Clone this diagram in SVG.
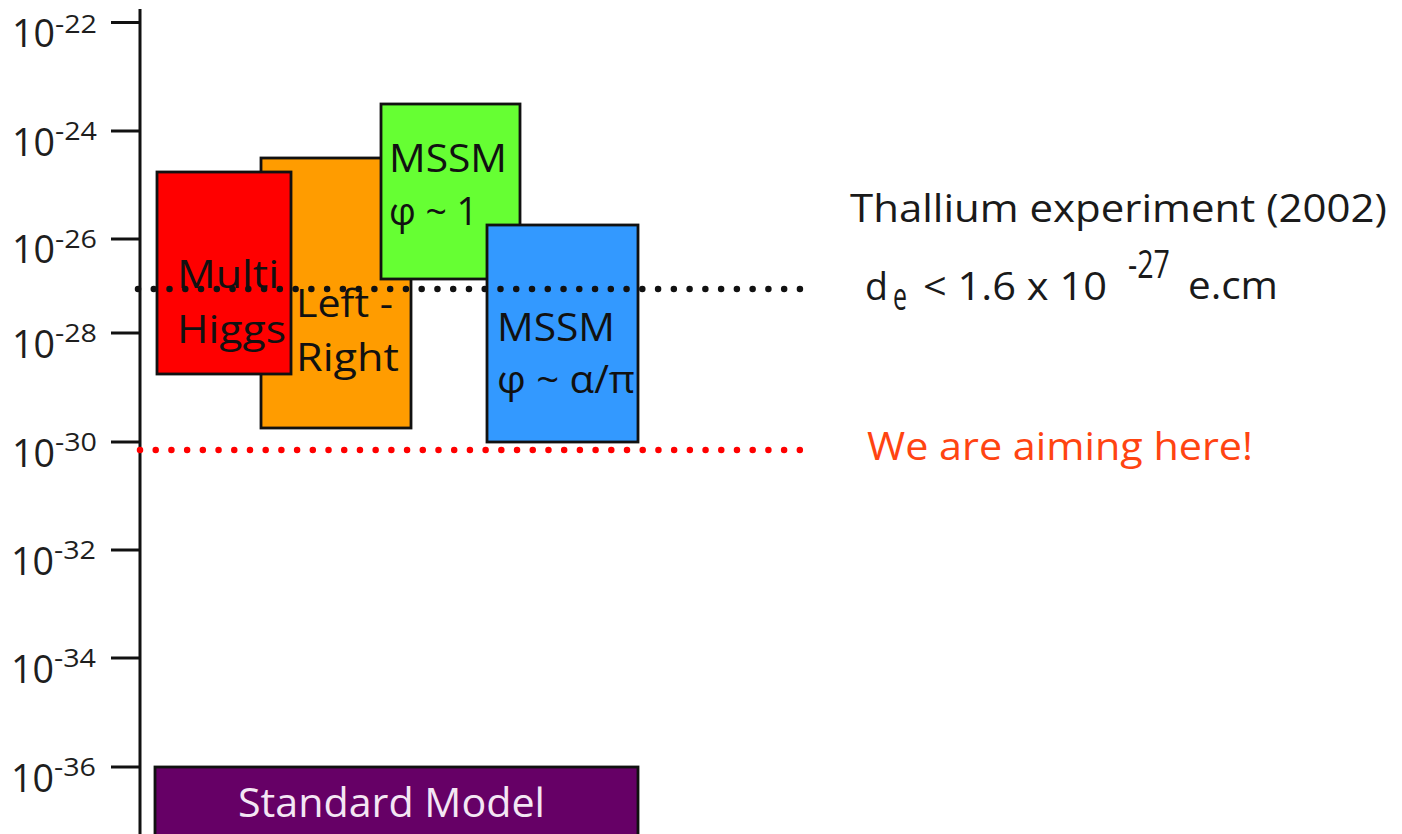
<svg xmlns="http://www.w3.org/2000/svg" width="1402" height="834" viewBox="0 0 1402 834">
<style>
  text { font-family: "Open Sans", "Noto Sans", "DejaVu Sans", sans-serif; }
  .ax { fill: #1e1e1e; font-size: 38px; }
  .sup { fill: #1e1e1e; font-size: 26px; }
  .tick { stroke: #111; stroke-width: 3; }
  .box { stroke: #111; stroke-width: 2.8; }
  .lbl { fill: #111; font-size: 38px; }
  .note { fill: #1a1a1a; font-size: 38px; }
</style>
<rect x="0" y="0" width="1402" height="834" fill="#ffffff"/>

<g id="axis">
  <line class="tick" x1="140" y1="9" x2="140" y2="840"/>
  <line class="tick" x1="111" y1="22.5" x2="140" y2="22.5"/>
  <line class="tick" x1="111" y1="131" x2="140" y2="131"/>
  <line class="tick" x1="111" y1="239" x2="140" y2="239"/>
  <line class="tick" x1="111" y1="333" x2="140" y2="333"/>
  <line class="tick" x1="111" y1="442" x2="140" y2="442"/>
  <line class="tick" x1="111" y1="550" x2="140" y2="550"/>
  <line class="tick" x1="111" y1="658" x2="140" y2="658"/>
  <line class="tick" x1="111" y1="767" x2="140" y2="767"/>

  <text class="ax" x="12" y="47" textLength="43" lengthAdjust="spacingAndGlyphs">10</text>
  <text class="sup" x="55" y="33" textLength="42" lengthAdjust="spacingAndGlyphs">-22</text>
  <text class="ax" x="12" y="156" textLength="43" lengthAdjust="spacingAndGlyphs">10</text>
  <text class="sup" x="55" y="140" textLength="42" lengthAdjust="spacingAndGlyphs">-24</text>
  <text class="ax" x="12" y="263" textLength="43" lengthAdjust="spacingAndGlyphs">10</text>
  <text class="sup" x="55" y="248" textLength="42" lengthAdjust="spacingAndGlyphs">-26</text>
  <text class="ax" x="12" y="358" textLength="43" lengthAdjust="spacingAndGlyphs">10</text>
  <text class="sup" x="55" y="342" textLength="42" lengthAdjust="spacingAndGlyphs">-28</text>
  <text class="ax" x="12" y="467" textLength="43" lengthAdjust="spacingAndGlyphs">10</text>
  <text class="sup" x="55" y="451" textLength="42" lengthAdjust="spacingAndGlyphs">-30</text>
  <text class="ax" x="11" y="575" textLength="43" lengthAdjust="spacingAndGlyphs">10</text>
  <text class="sup" x="54" y="559" textLength="42" lengthAdjust="spacingAndGlyphs">-32</text>
  <text class="ax" x="11" y="683" textLength="43" lengthAdjust="spacingAndGlyphs">10</text>
  <text class="sup" x="54" y="667" textLength="42" lengthAdjust="spacingAndGlyphs">-34</text>
  <text class="ax" x="11" y="792" textLength="43" lengthAdjust="spacingAndGlyphs">10</text>
  <text class="sup" x="54" y="776" textLength="42" lengthAdjust="spacingAndGlyphs">-36</text>
</g>

<g id="left-right">
  <rect class="box" x="261" y="158" width="150" height="270" fill="#ff9c00"/>
  <text class="lbl" x="296" y="317" textLength="97" lengthAdjust="spacingAndGlyphs">Left -</text>
  <text class="lbl" x="296" y="371" textLength="103" lengthAdjust="spacingAndGlyphs">Right</text>
</g>

<g id="multi-higgs">
  <rect class="box" x="157" y="172" width="134" height="202" fill="#ff0000"/>
  <text class="lbl" x="177" y="288" textLength="102" lengthAdjust="spacingAndGlyphs">Multi</text>
  <text class="lbl" x="177" y="343" textLength="109" lengthAdjust="spacingAndGlyphs">Higgs</text>
</g>

<g id="mssm-1">
  <rect class="box" x="381" y="104" width="139" height="175" fill="#66ff33"/>
  <text class="lbl" x="389" y="172" textLength="118" lengthAdjust="spacingAndGlyphs">MSSM</text>
  <text class="lbl" x="389" y="225" textLength="89" lengthAdjust="spacingAndGlyphs">φ ~ 1</text>
</g>

<g id="mssm-alpha">
  <rect class="box" x="487" y="225" width="151" height="217" fill="#3399ff"/>
  <text class="lbl" x="497" y="341" textLength="118" lengthAdjust="spacingAndGlyphs">MSSM</text>
  <text class="lbl" x="497" y="393" textLength="138" lengthAdjust="spacingAndGlyphs">φ ~ α/π</text>
</g>

<g id="standard-model">
  <rect class="box" x="155" y="767" width="483" height="80" fill="#660066"/>
  <text x="238" y="817" font-size="40" fill="#f4e6f4" textLength="307" lengthAdjust="spacingAndGlyphs">Standard Model</text>
</g>

<g id="connectors">
  <line x1="138" y1="289" x2="800" y2="289" stroke="#111" stroke-width="6.5" stroke-linecap="round" stroke-dasharray="0 15.76"/>
  <line x1="140" y1="450" x2="800" y2="450" stroke="#ff0000" stroke-width="6.5" stroke-linecap="round" stroke-dasharray="0 15.71"/>
</g>

<g id="thallium">
  <text class="note" x="850" y="222" textLength="537" lengthAdjust="spacingAndGlyphs">Thallium experiment (2002)</text>
  <text class="note" x="865" y="300" textLength="23" lengthAdjust="spacingAndGlyphs">d</text>
  <text class="note" x="893" y="310" font-size="23" textLength="14" lengthAdjust="spacingAndGlyphs">e</text>
  <text class="note" x="923" y="300" textLength="184" lengthAdjust="spacingAndGlyphs">&lt; 1.6 x 10</text>
  <text class="note" x="1128" y="278" font-size="25" textLength="42" lengthAdjust="spacingAndGlyphs">-27</text>
  <text class="note" x="1188" y="299" textLength="90" lengthAdjust="spacingAndGlyphs">e.cm</text>
</g>

<g id="aim">
  <text x="867" y="460" font-size="38" fill="#ff4411" textLength="386" lengthAdjust="spacingAndGlyphs">We are aiming here!</text>
</g>
</svg>
